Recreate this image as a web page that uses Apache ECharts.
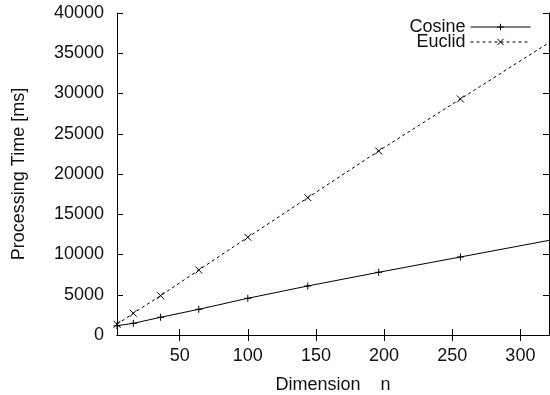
<!DOCTYPE html>
<html>
<head>
<meta charset="utf-8">
<script src="https://cdn.jsdelivr.net/npm/echarts@6/dist/echarts.min.js"></script>
<style>
  html, body { margin: 0; padding: 0; background: #fff; }
  #chart { width: 550px; height: 395px; }
</style>
</head>
<body>
<div id="chart"></div>
<script>
// Dimension n (perfect squares) and measured processing times in ms
const dimensions = [4, 16, 36, 64, 100, 144, 196, 256, 324];
const cosineTimes = [1150, 1450, 2200, 3190, 4560, 6090, 7790, 9690, 11850];
const euclidTimes = [1330, 2700, 4880, 8070, 12140, 17060, 22860, 29320, 36640];
const xTicks = [50, 100, 150, 200, 250, 300];
const yTicks = [0, 5000, 10000, 15000, 20000, 25000, 30000, 35000, 40000];

const FONT = 'Liberation Sans, Arial, Helvetica, sans-serif';
const FS = 18;
const plusPath = 'path://M0,5L10,5M5,0L5,10';
const crossPath = 'path://M0,0L10,10M10,0L0,10';

function pairs(xs, ys) { return xs.map((x, i) => [x, ys[i]]); }

const chart = echarts.init(document.getElementById('chart'), null, { renderer: 'canvas' });

const baseX = {
  type: 'value', min: 4, max: 321,
  axisLine: { show: true, lineStyle: { color: '#000', width: 1 } },
  axisTick: { show: true, inside: true, length: 6, customValues: xTicks, lineStyle: { color: '#000' } },
  splitLine: { show: false }
};
const baseY = {
  type: 'value', min: 0, max: 40000, interval: 5000,
  axisLine: { show: true, lineStyle: { color: '#000', width: 1 } },
  axisTick: { show: true, inside: true, length: 6, customValues: yTicks, lineStyle: { color: '#000' } },
  splitLine: { show: false }
};

chart.setOption({
  animation: false,
  backgroundColor: '#fff',
  grid: { left: 117, right: 1, top: 13, bottom: 60, containLabel: false, outerBoundsMode: 'none' },
  legend: {
    orient: 'vertical', right: 14, top: 13, align: 'right',
    itemWidth: 60, itemHeight: 8, itemGap: -3,
    lineStyle: { width: 1 },
    itemStyle: { borderWidth: 1 },
    textStyle: { fontFamily: FONT, fontSize: FS, color: '#111', lineHeight: 15 },
    data: ['Cosine', 'Euclid']
  },
  xAxis: [
    Object.assign({}, baseX, {
      position: 'bottom',
      name: 'Dimension    n', nameLocation: 'middle', nameGap: 41,
      nameTextStyle: { fontFamily: FONT, fontSize: FS, color: '#111' },
      axisLabel: { show: true, customValues: xTicks, margin: 12,
        fontFamily: FONT, fontSize: FS, color: '#111' }
    }),
    Object.assign({}, baseX, { position: 'top', axisLabel: { show: false } })
  ],
  yAxis: [
    Object.assign({}, baseY, {
      position: 'left',
      name: 'Processing Time [ms]', nameLocation: 'middle', nameGap: 89,
      nameTextStyle: { fontFamily: FONT, fontSize: FS, color: '#111' },
      axisLabel: { show: true, customValues: yTicks, margin: 13, fontFamily: FONT, fontSize: FS, color: '#111',
        formatter: v => String(v) }
    }),
    Object.assign({}, baseY, { position: 'right', axisLabel: { show: false } })
  ],
  series: [
    {
      name: 'Cosine', type: 'line', xAxisIndex: 0, yAxisIndex: 0,
      data: pairs(dimensions, cosineTimes),
      clip: true,
      symbol: plusPath, symbolSize: 7,
      lineStyle: { color: '#000', width: 1 },
      itemStyle: { color: '#000', borderColor: '#000', borderWidth: 1 }
    },
    {
      name: 'Euclid', type: 'line', xAxisIndex: 0, yAxisIndex: 0,
      data: pairs(dimensions, euclidTimes),
      clip: true,
      symbol: crossPath, symbolSize: 7,
      lineStyle: { color: '#000', width: 1, type: [3, 3] },
      itemStyle: { color: '#000', borderColor: '#000', borderWidth: 1 }
    }
  ]
});
</script>
</body>
</html>
